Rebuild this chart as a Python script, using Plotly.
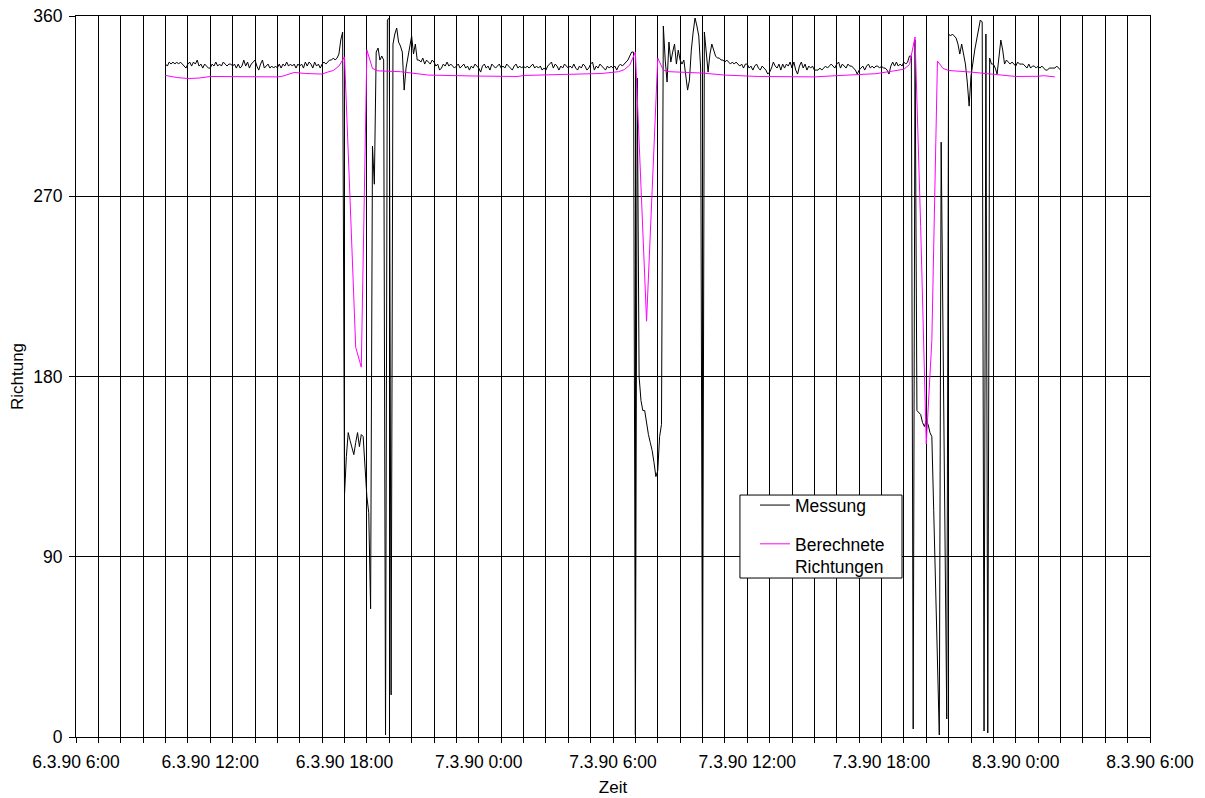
import pandas as pd
import plotly.graph_objects as go

# Gemessene Richtung, 5-Minuten-Werte ab 6.3.90 10:00 (eine Zeile = eine Stunde)
messung_start = "1990-03-06 10:00"
messung_schritt = "5min"
messung = [
    336, 335, 337, 336, 337, 336, 337, 336, 337, 336, 335, 334,
    336, 337, 335, 337, 336, 338, 335, 336, 334, 336, 335, 334,
    334, 336, 335, 337, 335, 336, 335, 337, 336, 335, 336, 336,
    335, 336, 334, 336, 334, 335, 338, 335, 337, 334, 336, 337,
    338, 335, 333, 336, 338, 334, 335, 336, 334, 335, 334, 335,
    334, 336, 334, 336, 335, 337, 335, 336, 335, 336, 334, 336,
    335, 336, 334, 337, 335, 337, 336, 334, 337, 335, 336, 334,
    336, 337, 336, 337, 338, 338, 339, 338, 339, 341, 348, 352,
    121, 140, 152, 148, 144, 141, 147, 152, 145, 151, 150, 132,
    120, 112, 64, 295, 276, 342, 344, 338, 340, 338, 1, 358,
    359, 21, 346, 351, 354, 347, 345, 342, 323, 334, 340, 345,
    350, 341, 346, 338, 338, 337, 339, 336, 338, 337, 336, 338,
    337, 335, 336, 333, 334, 336, 335, 337, 335, 336, 335, 334,
    335, 336, 334, 335, 336, 334, 335, 333, 335, 334, 336, 335,
    334, 332, 335, 336, 334, 335, 333, 336, 335, 334, 335, 336,
    334, 335, 334, 336, 335, 334, 333, 335, 336, 334, 335, 334,
    335, 334, 335, 334, 335, 336, 334, 335, 334, 335, 333, 334,
    333, 335, 336, 337, 334, 336, 335, 333, 335, 334, 336, 335,
    334, 335, 334, 336, 334, 333, 335, 334, 336, 335, 333, 334,
    336, 337, 333, 335, 334, 336, 335, 334, 333, 335, 334, 335,
    334, 335, 333, 335, 336, 335, 336, 337, 338, 340, 342, 342,
    1, 329, 180, 168, 163, 163, 156, 151, 147, 143, 137, 130,
    133, 150, 156, 355, 338, 327, 347, 337, 342, 346, 336, 343,
    338, 336, 338, 330, 323, 328, 343, 352, 359, 355, 350, 334,
    1, 352, 342, 332, 341, 346, 343, 340, 339, 339, 338, 338,
    337, 338, 337, 336, 337, 336, 337, 336, 335, 336, 334, 336,
    336, 334, 335, 333, 335, 336, 334, 333, 335, 334, 333, 331,
    332, 334, 337, 335, 334, 336, 333, 336, 334, 336, 335, 337,
    334, 337, 333, 331, 335, 337, 334, 336, 333, 335, 334, 335,
    333, 333, 333, 334, 333, 334, 335, 334, 335, 336, 335, 334,
    336, 337, 334, 336, 335, 334, 336, 335, 335, 334, 333, 331,
    333, 334, 335, 333, 335, 336, 334, 335, 334, 335, 335, 334,
    335, 334, 334, 333, 331, 335, 337, 335, 337, 335, 336, 335,
    337, 336, 337, 340, 340, 4, 348, 163, 162, 161, 157, 155,
    158, 156, 152, 150, 113, 76, 38, 1, 297, 205, 120, 9,
    351, 350, 351, 350, 349, 346, 341, 346, 340, 336, 327, 315,
    330, 338, 343, 348, 353, 358, 357, 3, 351, 2, 339, 336,
    336, 334, 331, 340, 348, 343, 336, 338, 337, 336, 337, 336,
    335, 337, 336, 336, 336, 335, 334, 336, 334, 335, 335, 334,
    335, 334, 335, 334, 333, 333, 334, 334, 334, 334, 335, 334,
    333,
]

# Berechnete Richtungen (Zeitpunkt, Wert)
berechnet_zeit = [
    "1990-03-06 10:00", "1990-03-06 10:30", "1990-03-06 11:00", "1990-03-06 11:30",
    "1990-03-06 12:00", "1990-03-06 15:00", "1990-03-06 15:15", "1990-03-06 15:45",
    "1990-03-06 16:15", "1990-03-06 17:00", "1990-03-06 17:15", "1990-03-06 17:30",
    "1990-03-06 17:45", "1990-03-06 18:00", "1990-03-06 18:15", "1990-03-06 18:30",
    "1990-03-06 18:45", "1990-03-06 19:00", "1990-03-06 19:15", "1990-03-06 19:30",
    "1990-03-06 20:30", "1990-03-06 21:45", "1990-03-07 00:00", "1990-03-07 01:45",
    "1990-03-07 02:00", "1990-03-07 04:45", "1990-03-07 05:30", "1990-03-07 06:15",
    "1990-03-07 06:30", "1990-03-07 06:45", "1990-03-07 07:00", "1990-03-07 07:15",
    "1990-03-07 07:30", "1990-03-07 07:45", "1990-03-07 08:00", "1990-03-07 08:15",
    "1990-03-07 08:30", "1990-03-07 10:00", "1990-03-07 11:00", "1990-03-07 12:30",
    "1990-03-07 15:00", "1990-03-07 16:30", "1990-03-07 17:45", "1990-03-07 18:30",
    "1990-03-07 19:00", "1990-03-07 19:15", "1990-03-07 19:30", "1990-03-07 19:45",
    "1990-03-07 20:00", "1990-03-07 20:15", "1990-03-07 20:30", "1990-03-07 20:45",
    "1990-03-07 21:00", "1990-03-07 22:00", "1990-03-07 23:00", "1990-03-08 00:00",
    "1990-03-08 01:00", "1990-03-08 01:15", "1990-03-08 01:45",
]
berechnet = [
    330.3, 329.3, 328.8, 329.0,
    329.8, 329.6, 330.0, 331.8,
    331.3, 331.0, 332.0, 332.8,
    335.0, 339.6, 268.0, 194.6,
    184.7, 343.0, 333.8, 332.6,
    332.2, 330.5, 330.0, 329.8,
    330.3, 331.0, 331.3, 332.2,
    333.2, 335.5, 342.0, 275.0,
    207.6, 273.0, 339.0, 333.0,
    332.2, 331.5, 330.5, 329.8,
    329.6, 330.5, 331.2, 332.5,
    333.4, 335.8, 349.5, 255.0,
    146.3, 198.0, 337.5, 333.8,
    332.8, 332.0, 330.8, 329.8,
    329.9, 330.2, 329.6,
]

# Achsen
achse_von = "1990-03-06 06:00"
achse_bis = "1990-03-08 06:00"
tick_zeit = [
    "1990-03-06 06:00", "1990-03-06 12:00", "1990-03-06 18:00",
    "1990-03-07 00:00", "1990-03-07 06:00", "1990-03-07 12:00",
    "1990-03-07 18:00", "1990-03-08 00:00", "1990-03-08 06:00",
]
tick_text = [
    "6.3.90 6:00", "6.3.90 12:00", "6.3.90 18:00",
    "7.3.90 0:00", "7.3.90 6:00", "7.3.90 12:00",
    "7.3.90 18:00", "8.3.90 0:00", "8.3.90 6:00",
]
y_ticks = [0, 90, 180, 270, 360]

zeit = pd.date_range(messung_start, periods=len(messung), freq=messung_schritt)

fig = go.Figure()
fig.add_trace(go.Scatter(
    x=zeit, y=messung, mode="lines", name="Messung",
    line=dict(color="black", width=1), legendgroup="m",
))
fig.add_trace(go.Scatter(
    x=pd.to_datetime(berechnet_zeit), y=berechnet, mode="lines",
    name="Berechnete<br>Richtungen",
    line=dict(color="#FF00FF", width=1), legendgroup="b",
))

schrift = "Liberation Sans, Arial, sans-serif"
groesse = 17.5

# Rahmen der Legende (weiß gefüllt, deckt das Gitter ab)
fig.add_shape(
    type="rect", xref="paper", yref="paper",
    x0=0.6182, x1=0.7691, y0=0.2205, y1=0.3356,
    line=dict(color="black", width=1), fillcolor="white", layer="above",
)

fig.update_layout(
    width=1205, height=798,
    margin=dict(l=76, r=55, t=16, b=61, autoexpand=False),
    paper_bgcolor="white", plot_bgcolor="white",
    font=dict(family=schrift, size=groesse, color="black"),
    showlegend=True,
    legend=dict(
        x=0.6322, y=0.3465, xanchor="left", yanchor="top",
        borderwidth=0, bgcolor="rgba(0,0,0,0)",
        tracegroupgap=13, valign="top",
        font=dict(family=schrift, size=groesse, color="black"),
    ),
)

fig.update_xaxes(
    type="date", range=[achse_von, achse_bis],
    tickmode="array", tickvals=tick_zeit, ticktext=tick_text,
    ticks="outside", ticklen=5, tickcolor="black", tickwidth=1,
    ticklabelstandoff=4,
    showgrid=True, gridcolor="black", gridwidth=1,
    showline=True, linecolor="black", linewidth=1, mirror=True,
    zeroline=False, automargin=False,
    title=dict(text="Zeit", font=dict(size=17), standoff=10),
    minor=dict(dtick=3600000, showgrid=True, gridcolor="black", gridwidth=1,
               ticks="outside", ticklen=5, tickcolor="black"),
)
fig.update_yaxes(
    range=[0, 360], tickmode="array", tickvals=y_ticks,
    ticks="outside", ticklen=6, tickcolor="black",
    ticklabelstandoff=3,
    showgrid=True, gridcolor="black", gridwidth=1,
    showline=True, linecolor="black", linewidth=1, mirror=True,
    zeroline=False, automargin=False,
    title=dict(text="Richtung", font=dict(size=17), standoff=5),
)

fig.write_html("out.html")
